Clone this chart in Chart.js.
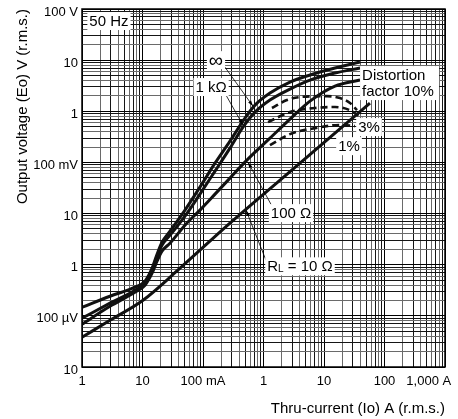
<!DOCTYPE html>
<html>
<head>
<meta charset="utf-8">
<script src="https://cdn.jsdelivr.net/npm/chart.js@4.4.1/dist/chart.umd.min.js"></script>
<style>
  html, body { margin: 0; padding: 0; background: #fff; }
  #wrap { width: 458px; height: 419px; }
</style>
</head>
<body>
<div id="wrap"><canvas id="ctChart"></canvas></div>
<script>
// thru-current (A) shared by the three upper curves
const currentA = [0.001, 0.0029, 0.0075, 0.011, 0.0144, 0.0174, 0.021, 0.0285, 0.0504, 0.089, 0.158, 0.279, 0.458, 0.724, 1.28, 2.74, 5.87, 15.2, 39.4];
// output voltage (V) per load
const vInfinite = [0.000147, 0.000242, 0.000363, 0.000475, 0.000855, 0.0016, 0.00275, 0.00453, 0.0117, 0.0329, 0.0968, 0.261, 0.643, 1.32, 2.27, 3.73, 5.11, 7.0, 9.18];
const v1k = [0.0000897, 0.000177, 0.000317, 0.000435, 0.00078, 0.00147, 0.00241, 0.00378, 0.00889, 0.024, 0.0676, 0.19, 0.491, 0.964, 1.66, 2.72, 4.08, 5.6, 7.0];
const v100 = [0.0000685, 0.000154, 0.00029, 0.000397, 0.000682, 0.00117, 0.00184, 0.00264, 0.00593, 0.0117, 0.024, 0.0493, 0.0927, 0.159, 0.299, 0.703, 1.58, 3.11, 4.08];
const current10 = [0.001, 0.0029, 0.0102, 0.0417, 0.279, 4.01, 57.5];
const v10 = [0.0000381, 0.000082, 0.000202, 0.000855, 0.0065, 0.097, 1.45];

// distortion factor limits (dashed)
const current10pct = [1.38, 2.44, 4.01, 11.2, 18.4, 26.9, 35.1];
const v10pct = [1.16, 1.66, 1.9, 1.98, 1.81, 1.45, 1.05];
const current3pct = [1.19, 2.74, 7.1, 15.2, 26.9, 42.5];
const v3pct = [0.615, 0.964, 1.16, 1.21, 1.05, 0.736];
const current1pct = [1.28, 2.74, 7.1, 18.4, 32.5];
const v1pct = [0.218, 0.358, 0.469, 0.54, 0.513];

// decade labels, 1 mA .. 1000 A and 10 uV .. 100 V
const xTickLabels = ['1', '10', '100 mA', '1', '10', '100', '1,000 A'];
const yTickLabels = ['10', '100 \u00b5V', '1', '10', '100 mV', '1', '10', '100 V'];

const FONT = '"Liberation Sans", Arial, Helvetica, sans-serif';

function pts(xs, ys) {
  return xs.map((x, i) => ({ x: x, y: ys[i] }));
}

function logTicks(minExp, maxExp) {
  const t = [];
  for (let e = minExp; e <= maxExp; e++) {
    for (let s = 1; s <= 9; s++) {
      if (e === maxExp && s > 1) break;
      t.push({ value: Number((s * Math.pow(10, e)).toPrecision(2)) });
    }
  }
  return t;
}

function sigOf(v) {
  const e = Math.floor(Math.log10(v) + 1e-9);
  return Math.round(v / Math.pow(10, e));
}

function gridColor(ctx) {
  if (!ctx.tick) return '#000';
  const s = sigOf(ctx.tick.value);
  if (s === 1) return '#000';
  return (s % 2 === 0) ? '#6a6a6a' : '#151515';
}

function solid(label, data) {
  return {
    label: label, data: data, showLine: true, pointRadius: 0,
    borderColor: '#111', borderWidth: 3, cubicInterpolationMode: 'monotone'
  };
}
function dashed(label, data) {
  return {
    label: label, data: data, showLine: true, pointRadius: 0,
    borderColor: '#111', borderWidth: 2.6, borderDash: [7, 4],
    cubicInterpolationMode: 'monotone'
  };
}

// labels placed in data coordinates
const notes = [
  { text: '50 Hz', x: 0.00279, y: 58.2, size: 15 },
  { text: '\u221e', x: 0.164, y: 10.0, size: 20 },
  { text: '1 k\u03a9', x: 0.136, y: 2.98, size: 15 },
  { text: '3%', x: 55.5, y: 0.491, size: 15 },
  { text: '1%', x: 25.9, y: 0.208, size: 15 },
  { text: '100 \u03a9', x: 2.85, y: 0.0102, size: 15 }
];
const leaders = [
  [0.206, 8.78, 0.67, 1.26],
  [0.24, 2.07, 0.458, 0.537],
  [1.38, 0.014, 0.555, 0.101],
  [1.1, 0.00122, 0.514, 0.0117]
];

const annotate = {
  id: 'annotate',
  afterDatasetsDraw(chart) {
    const c = chart.ctx, xs = chart.scales.x, ys = chart.scales.y, a = chart.chartArea;
    c.save();
    // frame
    c.strokeStyle = '#000';
    c.lineWidth = 1.5;
    c.strokeRect(a.left, a.top, a.right - a.left, a.bottom - a.top);

    // leader lines with small arrows
    c.lineWidth = 0.8;
    c.fillStyle = '#000';
    leaders.forEach(l => {
      const x0 = xs.getPixelForValue(l[0]), y0 = ys.getPixelForValue(l[1]);
      const x1 = xs.getPixelForValue(l[2]), y1 = ys.getPixelForValue(l[3]);
      c.beginPath(); c.moveTo(x0, y0); c.lineTo(x1, y1); c.stroke();
      const ang = Math.atan2(y1 - y0, x1 - x0);
      c.beginPath();
      c.moveTo(x1, y1);
      c.lineTo(x1 - 6 * Math.cos(ang - 0.3), y1 - 6 * Math.sin(ang - 0.3));
      c.lineTo(x1 - 6 * Math.cos(ang + 0.3), y1 - 6 * Math.sin(ang + 0.3));
      c.closePath(); c.fill();
    });

    c.textBaseline = 'middle';
    c.textAlign = 'center';
    notes.forEach(n => {
      c.font = n.size + 'px ' + FONT;
      const px = xs.getPixelForValue(n.x), py = ys.getPixelForValue(n.y);
      const w = c.measureText(n.text).width;
      c.fillStyle = '#fff';
      c.fillRect(px - w / 2 - 2, py - 9, w + 4, 18);
      c.fillStyle = '#000';
      c.fillText(n.text, px, py + 1);
    });

    // distortion factor label
    c.font = '15px ' + FONT;
    let px = xs.getPixelForValue(174), py = ys.getPixelForValue(3.56);
    c.fillStyle = '#fff';
    c.fillRect(px - 39, py - 17, 79, 34);
    c.fillStyle = '#000';
    c.textAlign = 'left';
    c.fillText('Distortion', px - 37, py - 7);
    c.fillText('factor 10%', px - 37, py + 9);

    // R_L = 10 ohm label with subscript
    px = xs.getPixelForValue(4.01); py = ys.getPixelForValue(0.00093);
    const wR = c.measureText('R').width;
    c.font = '10px ' + FONT;
    const wL = c.measureText('L').width;
    c.font = '15px ' + FONT;
    const wRest = c.measureText(' = 10 \u03a9').width;
    const tw = wR + wL + wRest;
    let sx = px - tw / 2;
    c.fillStyle = '#fff';
    c.fillRect(sx - 2, py - 9, tw + 4, 18);
    c.fillStyle = '#000';
    c.fillText('R', sx, py + 1);
    c.font = '10px ' + FONT;
    c.fillText('L', sx + wR, py + 3);
    c.font = '15px ' + FONT;
    c.fillText(' = 10 \u03a9', sx + wR + wL, py + 1);
    c.restore();
  }
};

new Chart(document.getElementById('ctChart'), {
  type: 'scatter',
  data: {
    datasets: [
      solid('\u221e', pts(currentA, vInfinite)),
      solid('1 k\u03a9', pts(currentA, v1k)),
      solid('100 \u03a9', pts(currentA, v100)),
      solid('10 \u03a9', pts(current10, v10)),
      dashed('10%', pts(current10pct, v10pct)),
      dashed('3%', pts(current3pct, v3pct)),
      dashed('1%', pts(current1pct, v1pct))
    ]
  },
  options: {
    responsive: true,
    maintainAspectRatio: false,
    animation: false,
    layout: { padding: { top: 9, right: 13, bottom: 0, left: 0 } },
    plugins: { legend: { display: false }, tooltip: { enabled: false } },
    scales: {
      x: {
        type: 'logarithmic',
        min: 0.001, max: 1000,
        afterBuildTicks: s => { s.ticks = logTicks(-3, 3); },
        afterFit: s => { s.height = 52; s.paddingLeft = 0; s.paddingRight = 0; },
        border: { display: false },
        grid: { color: gridColor, lineWidth: 1, drawTicks: false },
        ticks: {
          autoSkip: false, maxRotation: 0, padding: 7, color: '#000',
          font: { family: FONT, size: 13 },
          callback: v => {
            const e = Math.log10(v), r = Math.round(e);
            if (Math.abs(e - r) > 1e-6) return '';
            const t = xTickLabels[r + 3];
            return r === 3 ? t + '\u2002\u2002\u2002\u2002\u2002' : t;
          }
        },
        title: {
          display: true, text: 'Thru-current (Io) A (r.m.s.)', align: 'end',
          color: '#000', padding: 1, font: { family: FONT, size: 15 }
        }
      },
      y: {
        type: 'logarithmic',
        min: 0.00001, max: 100,
        afterBuildTicks: s => { s.ticks = logTicks(-5, 2); },
        afterFit: s => { s.width = 82; s.paddingTop = 0; s.paddingBottom = 0; },
        border: { display: false },
        grid: { color: gridColor, lineWidth: 1, drawTicks: false },
        ticks: {
          autoSkip: false, padding: 4, labelOffset: 3, color: '#000',
          font: { family: FONT, size: 13 },
          callback: v => {
            const e = Math.log10(v), r = Math.round(e);
            if (Math.abs(e - r) > 1e-6) return '';
            return yTickLabels[r + 5];
          }
        },
        title: {
          display: true, text: 'Output voltage (Eo) V (r.m.s.)', align: 'end',
          color: '#000', padding: 14, font: { family: FONT, size: 15 }
        }
      }
    }
  },
  plugins: [annotate]
});
</script>
</body>
</html>
